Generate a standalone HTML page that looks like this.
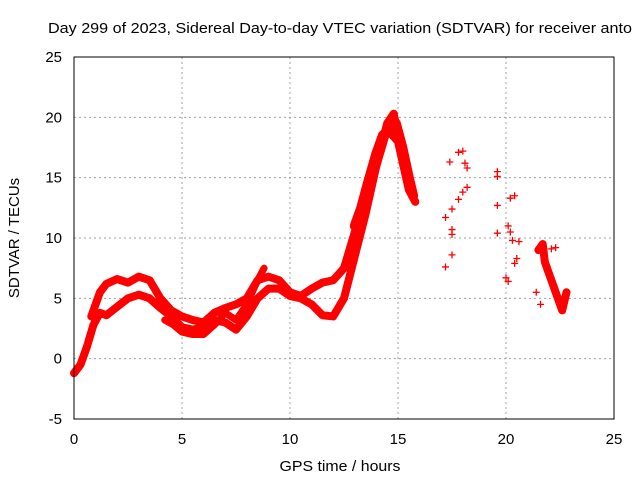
<!DOCTYPE html>
<html><head><meta charset="utf-8"><style>
body{margin:0;background:#fff}
svg{display:block;font-family:"Liberation Sans",sans-serif}
</style></head><body>
<svg id="chart" width="640" height="480" viewBox="0 0 640 480">
<rect width="640" height="480" fill="#fff"/>
<text x="48" y="33" font-size="15" textLength="584" lengthAdjust="spacingAndGlyphs" fill="#000">Day 299 of 2023, Sidereal Day-to-day VTEC variation (SDTVAR) for receiver anto</text>
<g id="grid"></g>
<g id="marks"></g>
<rect x="74" y="57" width="540" height="362" fill="none" stroke="#000" stroke-width="1"/>
<g id="ticks"></g>
<text x="340" y="471" font-size="15" textLength="121" lengthAdjust="spacingAndGlyphs" text-anchor="middle">GPS time / hours</text>
<text transform="translate(19,238) rotate(-90)" font-size="15" text-anchor="middle">SDTVAR / TECUs</text>
</svg>
<script>
const xTicks=[0,5,10,15,20,25];
const yTicks=[-5,0,5,10,15,20,25];
const lowerX=[0,0.3,0.6,0.9,1.2,1.5,2,2.5,3,3.5,4,4.5,5,5.5,6,6.5,7,7.5,8,8.5,9,9.5,10,10.5,11,11.5,12,12.5,13,13.5,14,14.5,15,15.5,15.8];
const lowerY=[-1.2,-0.5,1,2.8,3.8,3.6,4.3,5,5.3,5,4.2,3.5,2.6,2.4,2.6,3.2,3,2.4,3.5,5,5.8,5.8,5.2,5,4.5,3.6,3.5,5,8.5,12,16,19,18,14,13];
const upperX=[0.8,1.2,1.5,2,2.5,3,3.5,4,4.5,5,5.5,6,6.5,7,7.5,8,8.5,9,9.5,10,10.5,11,11.5,12,12.5,13,13.5,14,14.5,14.8,15.2,15.6];
const upperY=[3.5,5.5,6.2,6.6,6.3,6.8,6.5,5,4,3.5,3.2,3,3.8,4.2,4.5,5,6.5,6.8,6.5,5.5,5.2,5.8,6.3,6.5,7.5,10.5,13,16,19.5,20.3,17,14];
const midX=[4.2,4.6,5,5.5,6,6.5,7,7.5,8,8.5,8.8];
const midY=[3.2,2.8,2.2,2,2,2.8,3.8,3.2,4.5,6.5,7.5];
const peakX=[13,13.3,13.6,14,14.3,14.6,14.9,15.2,15.5,15.7];
const peakY=[11,12.5,14.5,17,18.5,19,19.5,17.5,15,13.5];
const tailX=[21.5,21.7,21.8,22,22.2,22.4,22.6,22.8];
const tailY=[9,9.5,8,7,6,5,4,5.5];
const scatterX=[17.2,17.2,17.5,17.5,17.5,17.5,17.4,17.8,18,18.1,17.8,18,18.2,18.2,19.6,19.6,19.6,19.6,20,20.1,20.2,20.4,20.1,20.2,20.3,20.5,20.6,20.4,22.1,22.3,21.4,21.6];
const scatterY=[7.6,11.7,8.6,10.3,10.7,12.4,16.3,17.1,17.2,16.2,13.2,13.8,14.2,15.8,15.5,15.1,12.7,10.4,6.7,6.4,13.3,13.5,11,10.5,9.8,8.3,9.7,7.9,9.1,9.2,5.5,4.5];

const NS='http://www.w3.org/2000/svg';
const X0=74,X1=614,Y0=419,Y1=57;
const sx=v=>X0+(v-0)/(25-0)*(X1-X0);
const sy=v=>Y0-(v+5)/(30)*(Y0-Y1);
const grid=document.getElementById('grid'),ticks=document.getElementById('ticks'),marks=document.getElementById('marks');
function mk(t,a,p){const e=document.createElementNS(NS,t);for(const k in a)e.setAttribute(k,a[k]);p.appendChild(e);return e;}
xTicks.forEach(v=>{
 if(v>0&&v<25){const g=mk('line',{x1:sx(v),x2:sx(v),y1:Y0,y2:Y1,stroke:'#a0a0a0','stroke-dasharray':'2,3'},grid);
 
 }
 const t=mk('text',{x:sx(v),y:444,'font-size':15,'text-anchor':'middle'},ticks);t.textContent=v;
 
 
});
yTicks.forEach(v=>{
 if(v>-5&&v<25){const g=mk('line',{x1:X0,x2:X1,y1:sy(v),y2:sy(v),stroke:'#a0a0a0','stroke-dasharray':'2,3'},grid);
 
 }
 const t=mk('text',{x:62,y:sy(v)+5,'font-size':15,'text-anchor':'end'},ticks);t.textContent=v;
 
 
});
function band(xs,ys,name,w){
 const pts=xs.map((x,i)=>sx(x)+','+sy(ys[i])).join(' ');
 const p=mk('polyline',{points:pts,fill:'none',stroke:'#ff0000','stroke-width':w,'stroke-linejoin':'round','stroke-linecap':'round'},marks);
 
 
}
function plus(x,y){
 const cx=sx(x),cy=sy(y);
 const p=mk('path',{d:`M${cx-3.5},${cy}H${cx+3.5}M${cx},${cy-3.5}V${cy+3.5}`,stroke:'#ff0000','stroke-width':1.3},marks);
 
 
}
band(lowerX,lowerY,'series-lower-band',8);
band(upperX,upperY,'series-upper-band',8);
band(midX,midY,'series-mid-band',7);
band(peakX,peakY,'series-peak-band',10);
band(tailX,tailY,'series-tail-band',8);
scatterX.forEach((x,i)=>plus(x,scatterY[i]));
</script>
</body></html>
